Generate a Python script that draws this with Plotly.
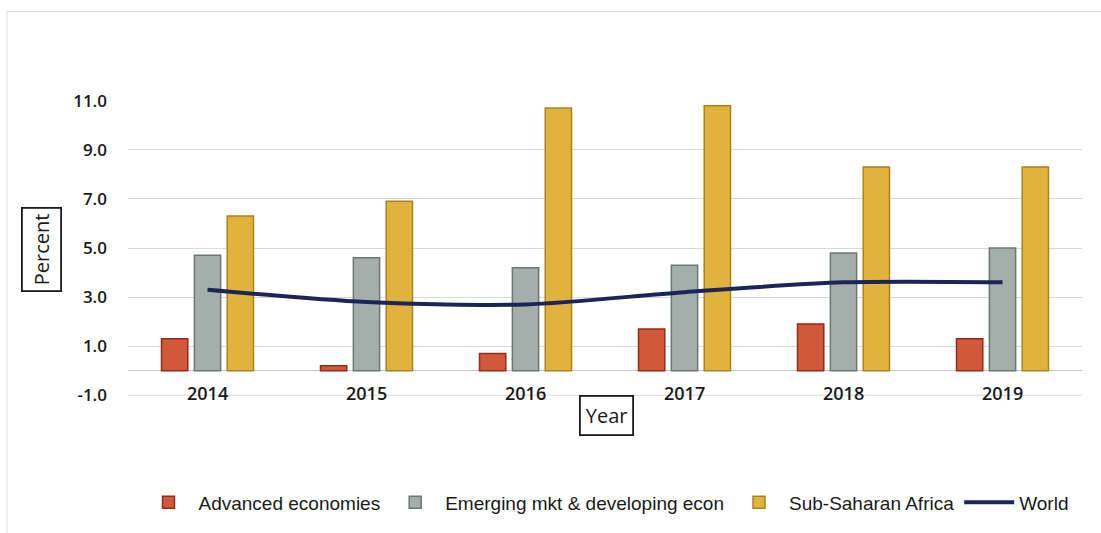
import plotly.graph_objects as go

# Annual inflation, percent
years = ["2014", "2015", "2016", "2017", "2018", "2019"]
advanced = [1.3, 0.2, 0.7, 1.7, 1.9, 1.3]
emerging = [4.7, 4.6, 4.2, 4.3, 4.8, 5.0]
ssa = [6.3, 6.9, 10.7, 10.8, 8.3, 8.3]
world = [3.3, 2.8, 2.7, 3.2, 3.6, 3.6]

y_ticks = [-1, 1, 3, 5, 7, 9, 11]
y_tick_text = ["-1.0", "1.0", "3.0", "5.0", "7.0", "9.0", "11.0"]

W, H = 1101, 533
ML, MR, MT, MB = 128, 19, 100, 135
PW, PH = W - ML - MR, H - MT - MB


def px_x(px):
    return (px - ML) / PW


def px_y(py):
    return (H - MB - py) / PH


fig = go.Figure()

fig.add_bar(
    x=years, y=advanced, name="Advanced economies",
    marker=dict(color="#d2573b", line=dict(color="#8e2e1c", width=1.5)),
)
fig.add_bar(
    x=years, y=emerging, name="Emerging mkt & developing econ",
    marker=dict(color="#a4aeaa", line=dict(color="#6c7773", width=1.5)),
)
fig.add_bar(
    x=years, y=ssa, name="Sub-Saharan Africa",
    marker=dict(color="#e2b23e", line=dict(color="#a8841f", width=1.5)),
)
fig.add_scatter(
    x=years, y=world, name="World", mode="lines",
    line=dict(color="#1d2558", width=4, shape="spline", smoothing=0.8),
)

# Bottom gridline at the lowest tick
fig.add_shape(
    type="line", xref="paper", yref="y", x0=0, x1=1, y0=y_ticks[0], y1=y_ticks[0],
    line=dict(color="#dadada", width=1), layer="below",
)

# Year labels sit inside the plot, next to the category axis
# (positioned by category index so numeric-looking names are not misread)
for i, yr in enumerate(years):
    fig.add_annotation(
        x=i, y=-0.9, xref="x", yref="y", text=yr, showarrow=False,
        xanchor="center", yanchor="middle",
        font=dict(family="Open Sans", size=18, color="#1a1a1a", weight=600),
    )

# Boxed axis titles
fig.add_annotation(
    x=px_x(42), y=px_y(251), xref="paper", yref="paper",
    xanchor="center", yanchor="middle",
    text="Percent", textangle=-90, showarrow=False,
    font=dict(family="Open Sans", size=20, color="#1a1a1a"),
    bordercolor="#1a1a1a", borderwidth=1.8, borderpad=5, bgcolor="white",
)
fig.add_annotation(
    x=px_x(606), y=px_y(418), xref="paper", yref="paper",
    xanchor="center", yanchor="middle",
    text="Year", showarrow=False,
    font=dict(family="Open Sans", size=20, color="#1a1a1a"),
    bordercolor="#1a1a1a", borderwidth=1.8, borderpad=5, bgcolor="white",
)

# Faint outer chart frame
fig.add_shape(
    type="rect", xref="paper", yref="paper",
    x0=px_x(7), x1=px_x(W + 20), y0=px_y(545), y1=px_y(11),
    line=dict(color="#dcdcdc", width=1), layer="below",
)

fig.update_layout(
    width=W, height=H,
    margin=dict(l=ML, r=MR, t=MT, b=MB),
    paper_bgcolor="white", plot_bgcolor="white",
    barmode="group", bargap=0.38, bargroupgap=0.2,
    showlegend=True,
    legend=dict(
        orientation="h", x=px_x(606), xanchor="center",
        y=px_y(505), yanchor="middle",
        font=dict(family="Liberation Sans", size=19, color="#1a1a1a"),
        itemwidth=50, traceorder="normal",
    ),
    xaxis=dict(
        type="category", range=[-0.5, len(years) - 0.5],
        showticklabels=False, showgrid=False, zeroline=False, showline=False,
        ticks="",
    ),
    yaxis=dict(
        range=[-1.03, 11.03], tickvals=y_ticks, ticktext=y_tick_text,
        showgrid=True, gridcolor="#dadada", gridwidth=1,
        zeroline=True, zerolinecolor="#c4c4c4", zerolinewidth=1.2,
        showline=False, ticks="", ticklabelstandoff=20,
        tickfont=dict(family="Open Sans", size=17, color="#1a1a1a", weight=600),
    ),
)

fig.write_html("out.html")
